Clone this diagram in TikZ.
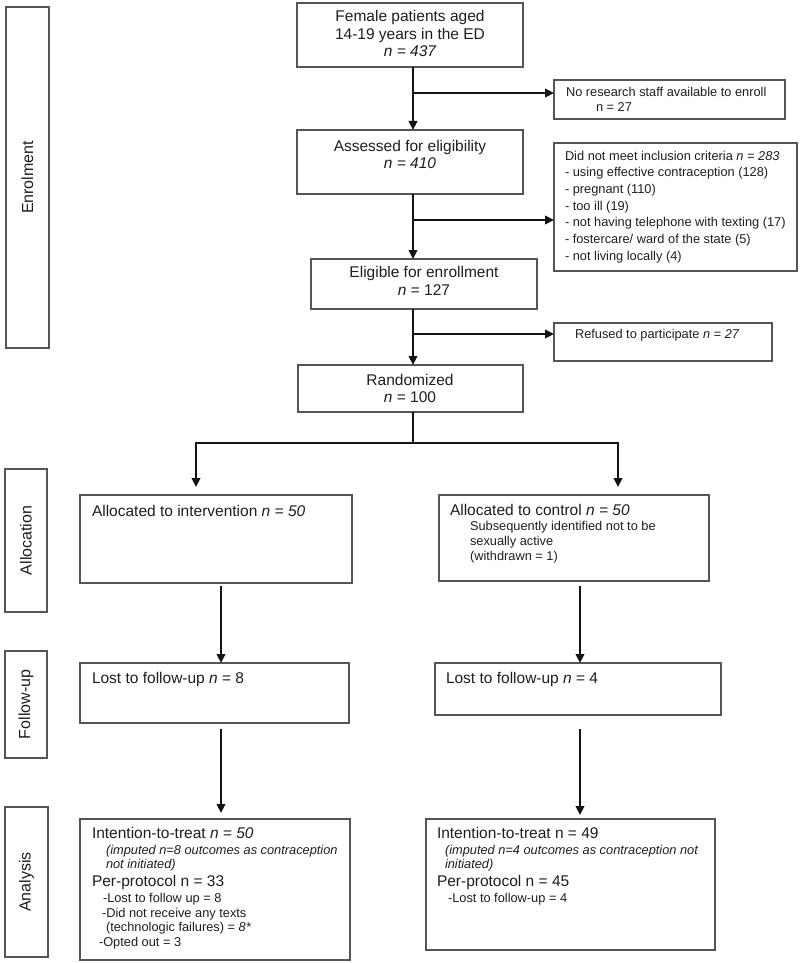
\documentclass[tikz,border=0pt]{standalone}
\usepackage{fontspec}
\setmainfont{Liberation Sans}
\usetikzlibrary{arrows.meta,fit}
\definecolor{bordc}{RGB}{85,85,85}
\definecolor{txtc}{RGB}{30,30,30}
\definecolor{linec}{RGB}{20,20,20}
\newcommand{\bigtxt}{\fontsize{15.5}{17.5}\selectfont}
\newcommand{\smtxt}{\fontsize{12.8}{16.7}\selectfont}
\newcommand{\sidetxt}{\fontsize{16}{18}\selectfont}
\begin{document}
\begin{tikzpicture}[x=1pt,y=-1pt,
  box/.style={draw=bordc, line width=1.5pt, inner sep=0pt, outer sep=0pt},
  txt/.style={inner sep=0pt, outer sep=0pt, anchor=base west, text=txtc, font=\bigtxt},
  ctxt/.style={txt, anchor=base},
  stxt/.style={txt, font=\smtxt},
  sitxt/.style={txt, font=\smtxt\itshape},
  side/.style={inner sep=0pt, outer sep=0pt, anchor=center, rotate=90, text=txtc, font=\sidetxt},
  conn/.style={draw=linec, line width=2.8pt},
  arr/.style={conn, -{Triangle[length=9pt,width=8.5pt]}}
]
\useasboundingbox (0,0) rectangle (800,963);

% side labels
\node[box, fit={(6,7) (49,348)}] (lEnrol) {};
\node[box, fit={(5,469) (47,612)}] (lAlloc) {};
\node[box, fit={(5,651) (47,758)}] (lFollow) {};
\node[box, fit={(5,807) (48,957)}] (lAnal) {};
\node[side] (lEnrolT) at (lEnrol.center) {Enrolment};
\node[side] (lAllocT) at (lAlloc.center) {Allocation};
\node[side] (lFollowT) at (lFollow.center) {Follow-up};
\node[side] (lAnalT) at (lAnal.center) {Analysis};

% boxes
\node[box, fit={(297,3) (523,67)}] (female) {};
\node[box, fit={(554,80) (785,119)}] (nostaff) {};
\node[box, fit={(297,130) (523,194)}] (assessed) {};
\node[box, fit={(554,143) (797,271)}] (notmeet) {};
\node[box, fit={(311,259) (537,309)}] (eligible) {};
\node[box, fit={(554,323) (772,361)}] (refused) {};
\node[box, fit={(298,365) (523,412)}] (random) {};
\node[box, fit={(80,495) (352,583)}] (interv) {};
\node[box, fit={(439,495) (709,581)}] (control) {};
\node[box, fit={(80,663) (349,723)}] (lostL) {};
\node[box, fit={(435,663) (721,715)}] (lostR) {};
\node[box, fit={(80,819) (350,960)}] (analL) {};
\node[box, fit={(426,819) (715,950)}] (analR) {};

% texts
\node[ctxt] (female1) at (410,22) {Female patients aged};
\node[ctxt] (female2) at (410,39.5) {14-19 years in the ED};
\node[ctxt] (female3) at (410,57) {\itshape n = 437};

\node[stxt] (nostaff1) at (566,97) {No research staff available to enroll};
\node[stxt] (nostaff2) at (596,112) {n = 27};

\node[ctxt] (assessed1) at (410,151) {Assessed for eligibility};
\node[ctxt] (assessed2) at (410,168.5) {\itshape n = 410};

\node[stxt] (nm1) at (565,160) {Did not meet inclusion criteria \textit{n = 283}};
\node[stxt] (nm2) at (565,176.7) {- using effective contraception (128)};
\node[stxt] (nm3) at (565,193.4) {- pregnant (110)};
\node[stxt] (nm4) at (565,210.1) {- too ill (19)};
\node[stxt] (nm5) at (565,226.8) {- not having telephone with texting (17)};
\node[stxt] (nm6) at (565,243.5) {- fostercare/ ward of the state (5)};
\node[stxt] (nm7) at (565,260.2) {- not living locally (4)};

\node[ctxt] (elig1) at (424,277) {Eligible for enrollment};
\node[ctxt] (elig2) at (424,295) {\textit{n} = 127};

\node[stxt] (ref1) at (575,338) {Refused to participate \textit{n = 27}};

\node[ctxt] (rand1) at (410,385) {Randomized};
\node[ctxt] (rand2) at (410,402.5) {\textit{n} = 100};

\node[txt] (int1) at (92,516) {Allocated to intervention \textit{n = 50}};

\node[txt] (con1) at (450,515) {Allocated to control \textit{n = 50}};
\node[stxt] (con2) at (470,530) {Subsequently identified not to be};
\node[stxt] (con3) at (470,545) {sexually active};
\node[stxt] (con4) at (470,560) {(withdrawn = 1)};

\node[txt] (lostL1) at (92,683) {Lost to follow-up \textit{n} = 8};
\node[txt] (lostR1) at (446,683) {Lost to follow-up \textit{n} = 4};

\node[txt] (aL1) at (92,838) {Intention-to-treat \textit{n = 50}};
\node[sitxt] (aL2) at (106,854) {(imputed n=8 outcomes as contraception};
\node[sitxt] (aL3) at (106,868) {not initiated)};
\node[txt] (aL4) at (92,886) {Per-protocol n = 33};
\node[stxt] (aL5) at (103,902) {-Lost to follow up = 8};
\node[stxt] (aL6) at (102,917) {-Did not receive any texts};
\node[stxt] (aL7) at (106,931) {(technologic failures) = \textit{8*}};
\node[stxt] (aL8) at (99,946) {-Opted out = 3};

\node[txt] (aR1) at (437,838) {Intention-to-treat n = 49};
\node[sitxt] (aR2) at (445,854) {(imputed n=4 outcomes as contraception not};
\node[sitxt] (aR3) at (445,868) {initiated)};
\node[txt] (aR4) at (437,886) {Per-protocol n = 45};
\node[stxt] (aR5) at (448,902) {-Lost to follow-up = 4};

% connectors
\coordinate (spine) at (413,0);
\coordinate (b1) at (413,93);
\coordinate (b2) at (413,220);
\coordinate (b3) at (413,334);
\coordinate (split) at (413,443);
\coordinate (sL) at (196,443);
\coordinate (sR) at (618,443);
\coordinate (cL) at (221,0);
\coordinate (cR) at (580,0);

\draw[arr] (female.south -| spine) -- (assessed.north -| spine);
\draw[arr] (b1) -- (b1 -| nostaff.west);
\draw[arr] (assessed.south -| spine) -- (eligible.north -| spine);
\draw[arr] (b2) -- (b2 -| notmeet.west);
\draw[arr] (eligible.south -| spine) -- (random.north -| spine);
\draw[arr] (b3) -- (b3 -| refused.west);
\draw[conn] (random.south -| spine) -- (split);
\draw[conn] ([xshift=-1.4pt]sL) -- ([xshift=1.4pt]sR);
\draw[arr] (sL) -- ([yshift=8pt]interv.north -| sL);
\draw[arr] (sR) -- ([yshift=8pt]control.north -| sR);
\draw[arr] ([yshift=-3pt]interv.south -| cL) -- (lostL.north -| cL);
\draw[arr] ([yshift=-5pt]control.south -| cR) -- (lostR.north -| cR);
\draw[arr] ([yshift=-6pt]lostL.south -| cL) -- ([yshift=6pt]analL.north -| cL);
\draw[arr] ([yshift=-14pt]lostR.south -| cR) -- ([yshift=4pt]analR.north -| cR);
\end{tikzpicture}
\end{document}
